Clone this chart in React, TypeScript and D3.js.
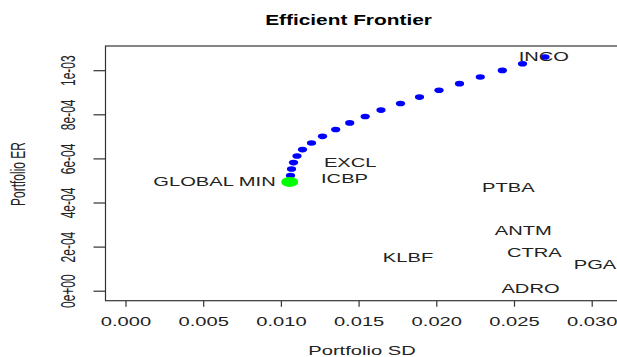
import React, { useEffect, useRef } from "react";
import * as d3 from "d3";

// Efficient frontier (portfolio SD vs expected return) with the single assets as text labels.
const frontierSD = [
  0.010618, 0.010682, 0.010811, 0.011036, 0.01139, 0.011969, 0.012677, 0.013526, 0.014427, 0.015425,
  0.016441, 0.017696, 0.018919, 0.020174, 0.021493, 0.022831, 0.024247, 0.025547, 0.026995,
];
const frontierER = [
  5.22e-4, 5.52e-4, 5.81e-4, 6.11e-4, 6.4e-4, 6.7e-4, 7.0e-4, 7.31e-4, 7.61e-4, 7.9e-4,
  8.19e-4, 8.49e-4, 8.78e-4, 9.09e-4, 9.39e-4, 9.69e-4, 9.99e-4, 1.029e-3, 1.06e-3,
];
const globalMin = { sd: 0.010566, er: 4.93e-4, label: "GLOBAL MIN" };

const assetNames = ["INCO", "EXCL", "ICBP", "PTBA", "ANTM", "CTRA", "KLBF", "PGA", "ADRO"];
const assetSD = [0.026918, 0.01446, 0.014093, 0.024633, 0.025598, 0.026306, 0.018179, 0.030212, 0.026062];
const assetER = [1.061e-3, 5.8e-4, 5.07e-4, 4.69e-4, 2.71e-4, 1.74e-4, 1.5e-4, 1.2e-4, 1.1e-5];

const xTicks = [0, 0.005, 0.01, 0.015, 0.02, 0.025, 0.03];
const xTickLabels = ["0.000", "0.005", "0.010", "0.015", "0.020", "0.025", "0.030"];
const yTicks = [0, 2e-4, 4e-4, 6e-4, 8e-4, 1e-3];
const yTickLabels = ["0e+00", "2e-04", "4e-04", "6e-04", "8e-04", "1e-03"];

const W = 617;
const H = 357;
const FONT = "'Liberation Sans', Arial, sans-serif";
const STRETCH = 1.68; // the source picture is squeezed vertically

export default function App() {
  const ref = useRef<SVGSVGElement | null>(null);

  useEffect(() => {
    const svg = d3.select(ref.current);
    svg.selectAll("*").remove();

    const box = { left: 105.5, top: 46, bottom: 300.7 };
    const x = d3.scaleLinear().domain([0, 0.03]).range([125.5, 591.7]);
    const y = d3.scaleLinear().domain([0, 0.001]).range([290.7, 70.2]);

    svg.append("rect").attr("width", W).attr("height", H).attr("fill", "#fff");

    // title
    svg
      .append("text")
      .attr("transform", `translate(348.5,25) scale(1.49,1)`)
      .attr("text-anchor", "middle")
      .attr("font-weight", "bold")
      .attr("font-size", 14)
      .attr("fill", "#000")
      .text("Efficient Frontier");

    // plot box (right edge runs off the picture)
    svg
      .append("rect")
      .attr("x", box.left)
      .attr("y", box.top)
      .attr("width", W + 40 - box.left)
      .attr("height", box.bottom - box.top)
      .attr("fill", "none")
      .attr("stroke", "#333")
      .attr("stroke-width", 1.2);

    // x axis
    const xa = svg
      .append("g")
      .attr("transform", `translate(0,${box.bottom})`)
      .call(
        d3
          .axisBottom(x)
          .tickValues(xTicks)
          .tickFormat((_, i) => xTickLabels[i])
          .tickSize(6)
      );
    xa.select(".domain").remove();
    xa.selectAll("line").attr("stroke", "#333").attr("stroke-width", 1.2);
    xa.selectAll("text")
      .attr("y", null)
      .attr("dy", null)
      .attr("transform", `translate(0,25.5) scale(${STRETCH},1)`)
      .attr("font-family", FONT)
      .attr("font-size", 12)
      .attr("fill", "#222");

    // y axis
    const ya = svg
      .append("g")
      .attr("transform", `translate(${box.left},0)`)
      .call(
        d3
          .axisLeft(y)
          .tickValues(yTicks)
          .tickFormat((_, i) => yTickLabels[i])
          .tickSize(12)
      );
    ya.select(".domain").remove();
    ya.selectAll("line").attr("stroke", "#333").attr("stroke-width", 1.2);
    ya.selectAll("text")
      .attr("x", null)
      .attr("dy", null)
      .attr("text-anchor", "middle")
      .attr("transform", `translate(-30.5,0) scale(${STRETCH},1) rotate(-90)`)
      .attr("font-family", FONT)
      .attr("font-size", 12)
      .attr("fill", "#222");

    // axis titles
    svg
      .append("text")
      .attr("transform", `translate(362,355) scale(${STRETCH},1)`)
      .attr("text-anchor", "middle")
      .attr("font-family", FONT)
      .attr("font-size", 12)
      .attr("fill", "#222")
      .text("Portfolio SD");
    svg
      .append("text")
      .attr("transform", `translate(25,174) scale(${STRETCH},1) rotate(-90)`)
      .attr("text-anchor", "middle")
      .attr("font-family", FONT)
      .attr("font-size", 12)
      .attr("fill", "#222")
      .text("Portfolio ER");

    // frontier points
    svg
      .append("g")
      .selectAll("ellipse")
      .data(frontierSD.map((sd, i) => ({ sd, er: frontierER[i] })))
      .join("ellipse")
      .attr("cx", (d) => x(d.sd))
      .attr("cy", (d) => y(d.er))
      .attr("rx", 4.6)
      .attr("ry", 2.8)
      .attr("fill", "#0000ff");

    // global minimum variance portfolio
    svg
      .append("ellipse")
      .attr("cx", x(globalMin.sd))
      .attr("cy", y(globalMin.er))
      .attr("rx", 8.5)
      .attr("ry", 5)
      .attr("fill", "#00ff00");
    svg
      .append("text")
      .attr("transform", `translate(${x(globalMin.sd) - 14},${y(globalMin.er) + 4.3}) scale(${STRETCH},1)`)
      .attr("text-anchor", "end")
      .attr("font-family", FONT)
      .attr("font-size", 12)
      .attr("fill", "#222")
      .text(globalMin.label);

    // single assets, drawn as text only
    svg
      .append("g")
      .selectAll("text")
      .data(assetNames.map((name, i) => ({ name, sd: assetSD[i], er: assetER[i] })))
      .join("text")
      .attr("transform", (d) => `translate(${x(d.sd)},${y(d.er) + 4.3}) scale(${STRETCH},1)`)
      .attr("text-anchor", "middle")
      .attr("font-family", FONT)
      .attr("font-size", 12)
      .attr("fill", "#222")
      .text((d) => d.name);
  }, []);

  return (
    <svg
      ref={ref}
      width={W}
      height={H}
      style={{ position: "absolute", left: 0, top: 0, fontFamily: FONT }}
    />
  );
}
